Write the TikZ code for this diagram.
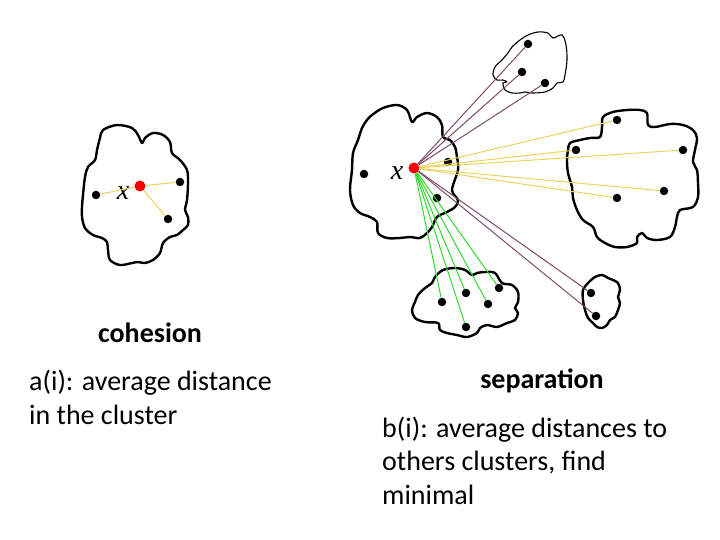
\documentclass[tikz,border=0pt]{standalone}
\usepackage{fontspec}
\setmainfont{Carlito}
\newfontfamily\varfont{Liberation Serif}
\usepackage{tikz}
\usetikzlibrary{positioning}
\definecolor{nearcolor}{RGB}{235, 210, 95}
\definecolor{farcolor}{RGB}{125, 75, 105}
\definecolor{owncolor}{RGB}{50, 215, 50}

\begin{document}
\begin{tikzpicture}[
    x=1pt, y=-1pt,
    member/.style={circle, fill=black, inner sep=0pt, minimum size=8.5pt},
    probe/.style={circle, fill=red, inner sep=0pt, minimum size=11pt},
    blob/.style={draw, line width=2.4pt, line join=round},
    thinblob/.style={draw, line width=1.1pt, line join=round},
    link/.style={line width=1pt},
    var/.style={font=\fontsize{28}{28}\selectfont\varfont\itshape, inner sep=0pt},
    heading/.style={font=\fontsize{28}{33}\selectfont\bfseries, anchor=base, inner sep=0pt},
    body/.style={font=\fontsize{28}{33.3}\selectfont, align=left, anchor=base west, inner sep=0pt},
]
    \useasboundingbox (0,0) rectangle (720,540);

    % Clusters
    \draw[blob] plot[smooth cycle, tension=0.55] coordinates {
        (103,130) (117,125) (132,128) (138,135) (142,143) (145,138) (153,133) (163,135) (170,142) (172,153)
        (180,160) (187,170) (188,183) (187,200) (185,210) (188,217) (188,225) (183,230) (177,235) (170,237)
        (163,243) (160,253) (153,260) (145,263) (138,262) (132,263) (120,265) (110,260) (108,250) (107,242)
        (102,238) (93,235) (85,228) (82,217) (82,207) (83,195) (85,177) (88,167) (95,160) (97,150) (100,138)};
    \draw[blob] plot[smooth cycle, tension=0.55] coordinates {
        (372,115) (383,108) (397,105) (407,110) (412,122) (417,117) (427,113) (437,117) (442,125) (443,137)
        (450,140) (455,147) (457,157) (458,170) (452,190) (458,200) (455,207) (447,212) (437,217) (432,227)
        (427,233) (420,238) (410,237) (400,238) (387,238) (378,233) (377,222) (370,217) (360,213) (353,205)
        (350,190) (352,170) (353,153) (358,140) (362,128) (367,120)};
    \draw[blob] plot[smooth cycle, tension=0.55] coordinates {
        (435,277) (443,270) (455,268) (465,270) (472,275) (477,273) (485,272) (495,273) (502,283) (512,285)
        (518,292) (518,302) (515,308) (518,313) (515,320) (507,323) (497,327) (487,325) (480,328) (477,333)
        (467,337) (457,335) (447,333) (440,330) (438,323) (425,322) (415,318) (412,310) (415,302) (418,295)
        (425,288) (432,283)};
    \draw[thinblob] plot[smooth cycle, tension=0.55] coordinates {
        (493,75) (495,67) (502,60) (508,53) (512,47) (520,40) (528,35) (538,32) (548,33) (553,38)
        (562,35) (566,45) (567,60) (565,75) (563,82) (557,83) (553,88) (545,92) (532,93) (525,92)
        (520,93) (512,93) (505,90) (503,83) (507,82) (503,80) (497,80)};
    \draw[blob] plot[smooth cycle, tension=0.55] coordinates {
        (570,143) (580,140) (590,138) (600,137) (602,127) (603,117) (613,112) (627,110) (640,110) (647,113)
        (648,125) (655,127) (670,124) (683,125) (693,130) (697,138) (695,150) (693,162) (697,170) (698,183)
        (698,197) (693,207) (680,210) (677,217) (675,227) (670,237) (657,240) (647,238) (642,233) (637,237)
        (637,243) (627,247) (615,247) (605,243) (597,237) (593,227) (583,220) (577,210) (573,198) (572,187)
        (568,173) (567,160) (568,150)};
    \draw[blob] plot[smooth cycle, tension=0.55] coordinates {
        (583,290) (588,283) (595,277) (602,275) (608,278) (613,280) (618,283) (620,290) (618,297) (620,303)
        (618,310) (615,317) (610,320) (607,325) (602,328) (597,327) (593,323) (588,318) (585,310) (583,300)};

    % Points, left picture
    \node[member] (l1) at (96,195) {};
    \node[probe] (lx) at (140,186) {};
    \node[member] (l2) at (180,182) {};
    \node[member] (l3) at (168,219) {};
    \node[var] (lxname) at (123,193) {x};

    % Points, right picture
    \node[member] (m1) at (364,174) {};
    \node[probe] (mx) at (414,168) {};
    \node[member] (m2) at (448,162) {};
    \node[member] (m3) at (437,198) {};
    \node[var] (mxname) at (397,173) {x};

    \node[member] (t1) at (528,44) {};
    \node[member] (t2) at (522,72) {};
    \node[member] (t3) at (545,83) {};

    \node[member] (b1) at (617,120) {};
    \node[member] (b2) at (576,150) {};
    \node[member] (b3) at (683,150) {};
    \node[member] (b4) at (664,191) {};
    \node[member] (b5) at (617,198) {};

    \node[member] (g1) at (442,302) {};
    \node[member] (g2) at (466,293) {};
    \node[member] (g3) at (488,304) {};
    \node[member] (g4) at (499,288) {};
    \node[member] (g5) at (466,327) {};

    \node[member] (s1) at (591,293) {};
    \node[member] (s2) at (596,316) {};

    % Distances inside the cluster
    \draw[link, nearcolor] (lx) -- (l1);
    \draw[link, nearcolor] (lx) -- (l2);
    \draw[link, nearcolor] (lx) -- (l3);

    % Distances to the other clusters
    \draw[link, farcolor] (mx) -- (t1);
    \draw[link, farcolor] (mx) -- (t2);
    \draw[link, farcolor] (mx) -- (t3);
    \draw[link, nearcolor] (mx) -- (b1);
    \draw[link, nearcolor] (mx) -- (b2);
    \draw[link, nearcolor] (mx) -- (b3);
    \draw[link, nearcolor] (mx) -- (b4);
    \draw[link, nearcolor] (mx) -- (b5);
    \draw[link, owncolor] (mx) -- (g1);
    \draw[link, owncolor] (mx) -- (g2);
    \draw[link, owncolor] (mx) -- (g3);
    \draw[link, owncolor] (mx) -- (g4);
    \draw[link, owncolor] (mx) -- (g5);
    \draw[link, farcolor] (mx) -- (s1);
    \draw[link, farcolor] (mx) -- (s2);

    % Captions
    \node[heading] (coh) at (150,342) {cohesion};
    \node[body] (cohtext) at (29,424) {a(i): average distance\\in the cluster};
    \node[heading] (sep) at (542,388) {separation};
    \node[body] (septext) at (382,504) {b(i): average distances to\\others clusters, find\\minimal};

\end{tikzpicture}
\end{document}
